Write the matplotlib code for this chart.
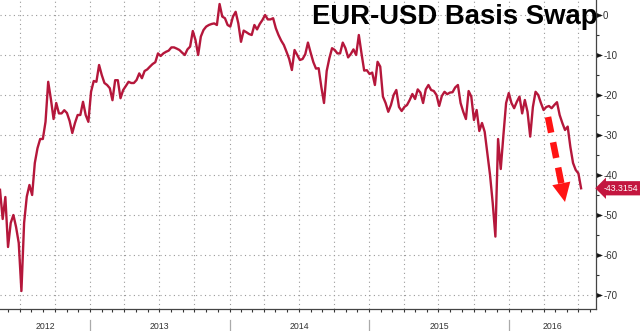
import matplotlib
matplotlib.use('Agg')
import matplotlib.pyplot as plt
import matplotlib.dates as mdates
import matplotlib.transforms as mtransforms
from matplotlib.patches import Polygon
from matplotlib.path import Path
from matplotlib.ticker import MultipleLocator
import pandas as pd

plt.rcParams['axes.unicode_minus'] = False

# ---------------- data ----------------
start_date = '2012-05-11'          # weekly observations
basis_values = [
    -43.7, -51, -45.5, -58, -52, -50, -53, -57, -69, -52,
    -45.4, -42.5, -45, -37, -33.3, -31, -31, -26.7, -16.7, -21,
    -26, -22, -24.6, -24.6, -23.8, -24.5, -26.5, -29.5, -27, -25,
    -25, -21.7, -25, -26.7, -19.2, -16.5, -16.7, -12.5, -15, -17,
    -17.5, -18.3, -21.3, -16.3, -16.3, -20.8, -18.75, -17.75, -16.7, -17,
    -17, -16.25, -14.6, -15.8, -14, -13.6, -12.9, -12.25, -11.8, -9.6,
    -10.25, -9.6, -9.2, -8.9, -8.1, -8.1, -8.4, -8.75, -9.4, -10,
    -8.6, -7.9, -4, -6.25, -10, -5.4, -3.75, -2.9, -2.5, -2.25,
    -2.1, -2.5, 2.75, -0.4, -0.8, -2.5, -2.9, -0.4, 0.8, -2.1,
    -6.7, -3.9, -4.3, -4.75, -5, -2.5, -3.6, -2.25, -1.25, 0,
    -1.1, -1.1, -0.8, -3.3, -5, -6.4, -7.5, -9.2, -11, -13.75,
    -8.75, -10, -11.25, -11, -9.8, -6.9, -9.4, -11.75, -13.4, -13.3,
    -18, -22, -14, -10.8, -8.3, -8.75, -9.6, -9.6, -6.9, -8.3,
    -10.6, -9.75, -8.6, -10, -5, -9.6, -13.9, -13.8, -14.75, -14.4,
    -17.5, -11.7, -12.9, -20.4, -22, -24.2, -22.5, -20, -18.75, -23,
    -24, -23, -22.5, -21.25, -19.75, -21, -18.6, -19.4, -22, -18.6,
    -17.5, -18.75, -19, -20, -22.75, -20.25, -19.2, -19.8, -19.4, -19.3,
    -18.1, -17.5, -22, -24.2, -26, -19, -20.4, -26.25, -23.75, -29,
    -27, -29.2, -34.6, -40, -47, -55.4, -31, -38.5, -30, -22,
    -19.5, -22, -23.3, -21.7, -20.4, -24.6, -21.25, -24.2, -30.4, -23,
    -19.2, -20, -22, -23.75, -23, -22.75, -23.3, -22.5, -21.8, -25,
    -27, -28.75, -27.9, -33, -37, -38.75, -39.6, -43.3154,
]
years = [2012, 2013, 2014, 2015, 2016]
y_ticks = [0, -10, -20, -30, -40, -50, -60, -70]
last_label = '-43.3154'
title = 'EUR-USD Basis Swap'

x_start = pd.Timestamp('2012-05-11')
x_end = pd.Timestamp('2016-08-16')

LINE = '#b5173b'
BOX = '#c3163f'
GRID = '#9a9a9a'
TXT = '#333333'
ARROW = '#ff1414'

dates = pd.date_range(start_date, periods=len(basis_values), freq='7D')

fig = plt.figure(figsize=(6.4, 3.31), dpi=100)
W, H = 640, 331
ax_l, ax_r, ax_t, ax_b = 0, 596, 0, 309
ax = fig.add_axes([ax_l / W, 1 - ax_b / H, (ax_r - ax_l) / W, (ax_b - ax_t) / H])

ax.plot(dates, basis_values, color=LINE, lw=1.7, solid_joinstyle='round', zorder=3)
ax.set_xlim(x_start, x_end)
ax.set_ylim(-73.5, 3.75)

# x axis: quarterly grid, monthly ticks, no labels
ax.xaxis.set_major_locator(mdates.MonthLocator(bymonth=[1, 4, 7, 10]))
ax.xaxis.set_minor_locator(mdates.MonthLocator())
ax.tick_params(axis='x', which='both', direction='out', length=2.5, width=0.8,
               color=TXT, labelbottom=False)

# y axis on the right
ax.yaxis.tick_right()
ax.set_yticks(y_ticks)
ax.yaxis.set_minor_locator(MultipleLocator(5))
ax.tick_params(axis='y', which='major', direction='out', length=4.5, width=1.0,
               color='#111111', labelsize=7, labelcolor=TXT, pad=0.6)
ax.tick_params(axis='y', which='minor', direction='out', length=2.5, width=0.8, color=TXT)
for lab in ax.get_yticklabels():
    lab.set_fontfamily('Liberation Sans')

# small triangular major tick markers (Bloomberg style)
tri = Path([(0, -0.38), (1, 0), (0, 0.38), (0, -0.38)],
           [Path.MOVETO, Path.LINETO, Path.LINETO, Path.CLOSEPOLY])
for t in ax.yaxis.get_major_ticks():
    t.tick2line.set_marker(tri)
    t.tick2line.set_markersize(8.5)
    t.tick2line.set_markerfacecolor('#111111')
    t.tick2line.set_markeredgecolor('#111111')
    t.tick2line.set_markeredgewidth(0.3)

ax.grid(True, which='major', axis='both', color=GRID, linestyle=(0, (1, 3)), lw=0.8)

for s in ['top', 'left']:
    ax.spines[s].set_visible(False)
for s in ['right', 'bottom']:
    ax.spines[s].set_color('#444444')
    ax.spines[s].set_linewidth(0.9)

# year labels and separators below the axis
blend = mtransforms.blended_transform_factory(ax.transData, ax.transAxes)
for yr in years:
    a = max(pd.Timestamp(f'{yr}-01-01'), x_start)
    b = min(pd.Timestamp(f'{yr + 1}-01-01'), x_end)
    mid = a + (b - a) / 2
    ax.text(mdates.date2num(mid), -0.056, str(yr), transform=blend, ha='center',
            va='center', fontsize=6.3, color=TXT, family='Liberation Sans')
    sep = pd.Timestamp(f'{yr}-01-01')
    if x_start < sep < x_end:
        ax.plot([sep, sep], [-0.035, -0.075], transform=blend, clip_on=False,
                color='#aaaaaa', lw=0.9)

# last value label
blend_y = mtransforms.blended_transform_factory(ax.transAxes, ax.transData)
ax.text(1.012, basis_values[-1], last_label, transform=blend_y, ha='left', va='center',
        fontsize=6.3, color='white', family='Liberation Sans', zorder=5,
        bbox=dict(boxstyle='larrow,pad=0.3', fc=BOX, ec='none'))

# title
fig.text(598 / W, 1 - 16.5 / H, title, ha='right', va='center', fontsize=19.8,
         fontweight='bold', color='black', family='Liberation Sans')

# red dashed arrow (annotation)
def axp(px, py):
    return (px - ax_l) / (ax_r - ax_l), 1 - (py - ax_t) / (ax_b - ax_t)

x0, y0 = axp(548, 117)
x1, y1 = axp(561.3, 183.4)
ax.plot([x0, x1], [y0, y1], transform=ax.transAxes, color=ARROW, lw=4.7,
        linestyle=(0, (2.45, 1.5)), dash_capstyle='butt',
        clip_on=False, zorder=6)
head = Polygon([axp(570.3, 181.6), axp(552.3, 185.2), axp(565, 202)], closed=True,
               transform=ax.transAxes, fc=ARROW, ec='none', zorder=6, clip_on=False)
ax.add_patch(head)

fig.savefig('out.png', dpi=100)
